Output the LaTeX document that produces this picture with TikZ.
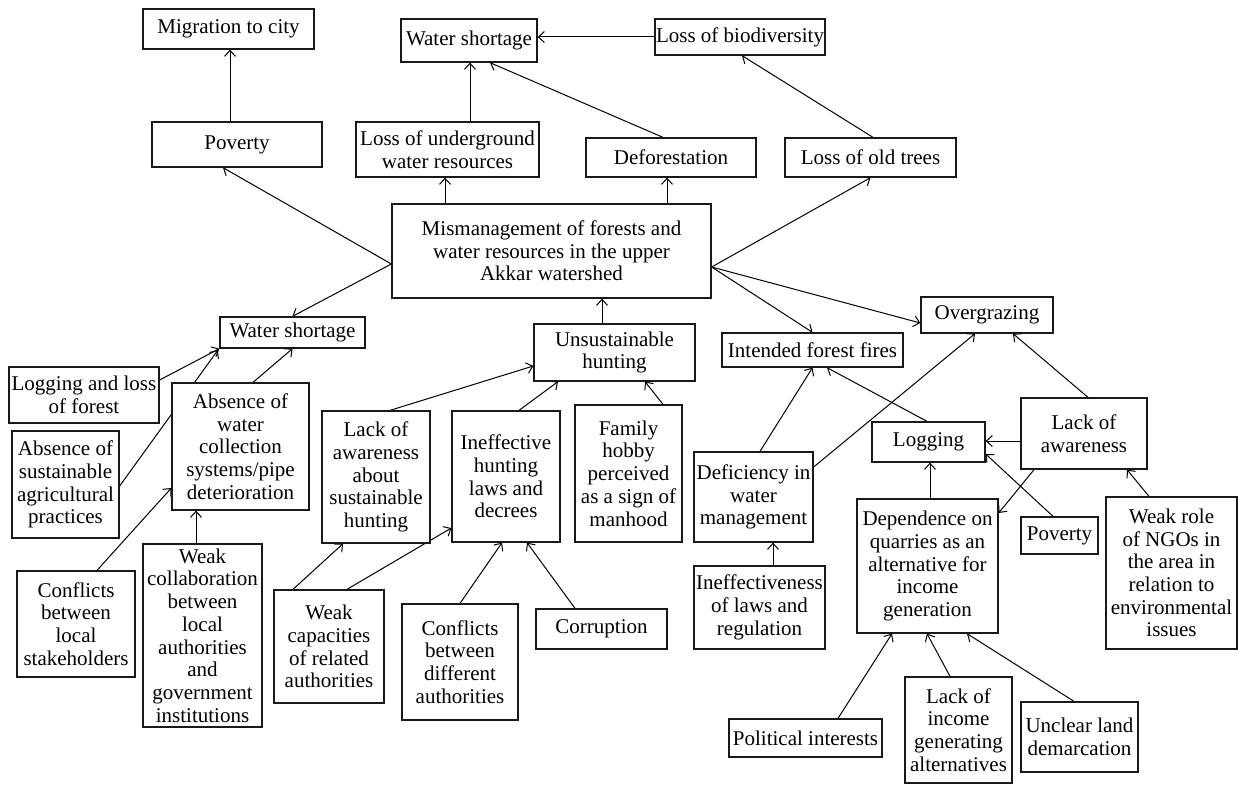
\documentclass[tikz,border=0pt]{standalone}
\usepackage{fontspec}
\setmainfont{Liberation Serif}
\usetikzlibrary{arrows.meta,backgrounds}
\begin{document}
\begin{tikzpicture}[x=1pt,y=-1pt,
  box/.style={draw=black!90,line width=1.3pt,fill=white,rectangle,inner sep=0pt,align=center,
    font=\fontsize{21}{22.7}\selectfont},
  arr/.style={draw=black,line width=1pt,-{Straight Barb[length=6pt,width=11pt,line width=1pt]}}]
\useasboundingbox (0,0) rectangle (1238,784);
% nodes
\node[box,minimum width=171pt,minimum height=40pt] (mig) at (228.5,29) {Migration to city};
\node[box,minimum width=170pt,minimum height=45pt] (pov1) at (237,144.5) {Poverty};
\node[box,minimum width=136pt,minimum height=43pt] (ws1) at (469,40.5) {Water shortage};
\node[box,minimum width=170pt,minimum height=36pt] (bio) at (740,37) {Loss of biodiversity};
\node[box,minimum width=183pt,minimum height=55pt] (under) at (447.5,149.5) {Loss of underground\\water resources};
\node[box,minimum width=170pt,minimum height=39pt] (defo) at (671,157.5) {Deforestation};
\node[box,minimum width=171pt,minimum height=39pt] (old) at (870.5,157.5) {Loss of old trees};
\node[box,minimum width=319pt,minimum height=94pt] (main) at (551.5,251) {Mismanagement of forests and\\water resources in the upper\\Akkar watershed};
\node[box,minimum width=145pt,minimum height=31pt] (ws2) at (292.5,332.5) {Water shortage};
\node[box,minimum width=150pt,minimum height=56pt] (logloss) at (84,395) {Logging and loss\\of forest};
\node[box,minimum width=107pt,minimum height=107pt] (agri) at (65.5,484.5) {Absence of\\sustainable\\agricultural\\practices};
\node[box,minimum width=137pt,minimum height=127pt] (abswc) at (240.5,446.5) {Absence of\\water\\collection\\systems/pipe\\deterioration};
\node[box,minimum width=118pt,minimum height=106pt] (confl) at (76,624) {Conflicts\\between\\local\\stakeholders};
\node[box,minimum width=119pt,minimum height=183pt] (weakcol) at (202.5,635.5) {Weak\\collaboration\\between\\local\\authorities\\and\\government\\institutions};
\node[box,minimum width=108pt,minimum height=132pt] (lackhunt) at (376,477) {Lack of\\awareness\\about\\sustainable\\hunting};
\node[box,minimum width=108pt,minimum height=131pt] (ineff) at (506,476.5) {Ineffective\\hunting\\laws and\\decrees};
\node[box,minimum width=107pt,minimum height=137pt] (family) at (628.5,473.5) {Family\\hobby\\perceived\\as a sign of\\manhood};
\node[box,minimum width=161pt,minimum height=57pt] (unsust) at (614.5,352.5) {Unsustainable\\hunting};
\node[box,minimum width=110pt,minimum height=113pt] (weakcap) at (329,646.5) {Weak\\capacities\\of related\\authorities};
\node[box,minimum width=116pt,minimum height=116pt] (confdiff) at (460,662) {Conflicts\\between\\different\\authorities};
\node[box,minimum width=131pt,minimum height=40pt] (corr) at (601.5,629) {Corruption};
\node[box,minimum width=181pt,minimum height=34pt] (fires) at (812.5,350) {Intended forest fires};
\node[box,minimum width=132pt,minimum height=36pt] (overg) at (987,315) {Overgrazing};
\node[box,minimum width=119pt,minimum height=90pt] (defic) at (753.5,497) {Deficiency in\\water\\management};
\node[box,minimum width=131pt,minimum height=83pt] (ineffl) at (759.5,607.5) {Ineffectiveness\\of laws and\\regulation};
\node[box,minimum width=113pt,minimum height=40pt] (logging) at (928.5,442) {Logging};
\node[box,minimum width=126pt,minimum height=71pt] (lackaw) at (1084,433.5) {Lack of\\awareness};
\node[box,minimum width=141pt,minimum height=134pt] (dep) at (927.5,566) {Dependence on\\quarries as an\\alternative for\\income\\generation};
\node[box,minimum width=77pt,minimum height=37pt] (pov2) at (1059.5,535.5) {Poverty};
\node[box,minimum width=131pt,minimum height=152pt] (ngo) at (1171.5,573) {Weak role\\of NGOs in\\the area in\\relation to\\environmental\\issues};
\node[box,minimum width=153pt,minimum height=38pt] (polit) at (805.5,738) {Political interests};
\node[box,minimum width=107pt,minimum height=106pt] (lackinc) at (958.5,730) {Lack of\\income\\generating\\alternatives};
\node[box,minimum width=117pt,minimum height=70pt] (unclear) at (1079.5,737) {Unclear land\\demarcation};
% connectors
\begin{pgfonlayer}{background}
\draw[arr] ([xshift=-7pt]pov1.north) -- ([xshift=1.5pt]mig.south);
\draw[arr] ([yshift=-13pt]main.west) -- ([xshift=-14pt]pov1.south);
\draw[arr] ([yshift=-13pt]main.west) -- (ws2.north);
\draw[arr] ([xshift=-106.5pt]main.north) -- ([xshift=-2.5pt]under.south);
\draw[arr] ([xshift=115.5pt]main.north) -- ([xshift=-4pt]defo.south);
\draw[arr] ([xshift=22.5pt]under.north) -- ([xshift=1pt]ws1.south);
\draw[arr] ([xshift=-8pt]defo.north) -- ([xshift=21pt]ws1.south);
\draw[arr] (bio.west) -- (bio.west -| ws1.east);
\draw[arr] ([xshift=2.5pt]old.north) -- ([xshift=2pt]bio.south);
\draw[arr] ([yshift=-16pt]main.east) -- (old.south);
\draw[arr] ([yshift=-16pt]main.east) -- (fires.north);
\draw[arr] ([yshift=-16pt]main.east) -- ([yshift=-8pt]overg.west);
\draw[arr] ([xshift=-12.5pt]unsust.north) -- ([xshift=50.5pt]main.south);
\draw[arr] ([xshift=14pt]lackhunt.north) -- ([yshift=-13.5pt]unsust.west);
\draw[arr] ([xshift=13pt]ineff.north) -- ([xshift=-56.5pt]unsust.south);
\draw[arr] ([xshift=34.5pt]family.north) -- ([xshift=30.5pt]unsust.south);
\draw[arr] ([xshift=-36pt]weakcap.north) -- ([xshift=-33pt]lackhunt.south);
\draw[arr] ([xshift=18pt]weakcap.north) -- ([yshift=-51.5pt]ineff.west);
\draw[arr] (confdiff.north) -- ([xshift=-4pt]ineff.south);
\draw[arr] ([xshift=-26.5pt]corr.north) -- ([xshift=21pt]ineff.south);
\draw[arr] ([yshift=15pt]logloss.east) -- (ws2.south west);
\draw[arr] ([yshift=-1.5pt]agri.east) -- ([xshift=-1.5pt,yshift=-1.5pt]ws2.south west);
\draw[arr] ([xshift=12.5pt]abswc.north) -- (ws2.south);
\draw[arr] ([xshift=21pt]confl.north) -- ([yshift=-41.5pt]abswc.west);
\draw[arr] ([xshift=-6.5pt]weakcol.north) -- ([xshift=-44.5pt]abswc.south);
\draw[arr] ([xshift=6.5pt]defic.north) -- (fires.south);
\draw[arr] ([yshift=30pt]defic.east) -- ([xshift=-12pt]overg.south);
\draw[arr] ([xshift=13.5pt]ineffl.north) -- ([xshift=19.5pt]defic.south);
\draw[arr] ([xshift=-1.5pt]logging.north) -- ([xshift=14.5pt]fires.south);
\draw[arr] ([xshift=4pt]lackaw.north) -- ([xshift=26pt]overg.south);
\draw[arr] ([yshift=-7.5pt]lackaw.west) -- ([yshift=-7.5pt]lackaw.west -| logging.east);
\draw[arr] ([xshift=-50pt]lackaw.south) -- ([yshift=53pt]dep.east);
\draw[arr] ([xshift=2.5pt]dep.north) -- ([xshift=1.5pt]logging.south);
\draw[arr] ([xshift=-6.5pt]pov2.north) -- ([yshift=-12pt]logging.east);
\draw[arr] ([xshift=-22.5pt]ngo.north) -- ([xshift=43pt]lackaw.south);
\draw[arr] ([xshift=32.5pt]polit.north) -- ([xshift=-35.5pt]dep.south);
\draw[arr] ([xshift=-8.5pt]lackinc.north) -- ([xshift=-0.5pt]dep.south);
\draw[arr] ([xshift=-5.5pt]unclear.north) -- ([xshift=39.5pt]dep.south);
\end{pgfonlayer}
\end{tikzpicture}
\end{document}
